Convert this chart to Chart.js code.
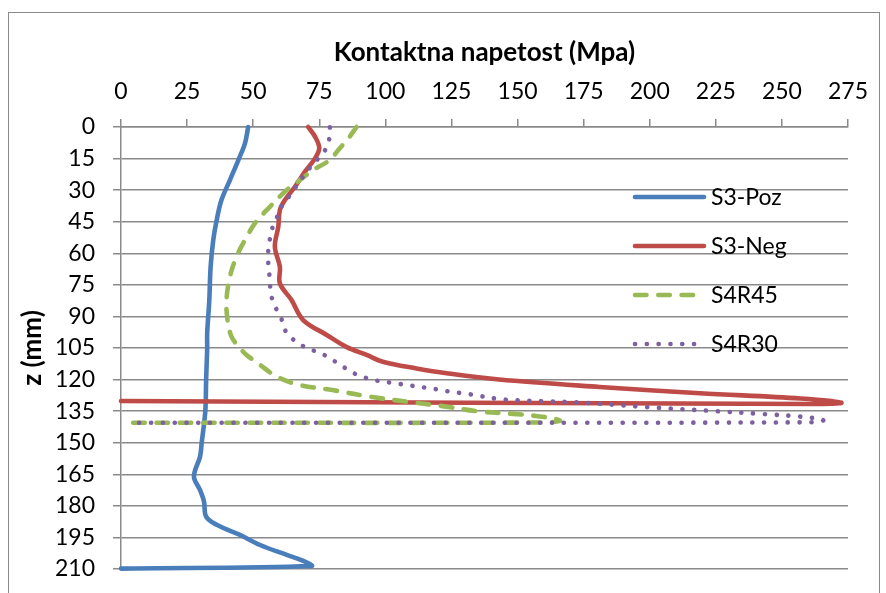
<!DOCTYPE html>
<html lang="sl">
<head>
<meta charset="UTF-8">
<title>Kontaktna napetost</title>
<style>
    body, html {
        margin: 0;
        padding: 0;
        background: #fff;
        overflow: hidden;
    }
    #wrap {
        width: 886px;
        height: 593px;
    }
</style>
</head>
<body>
<div id="wrap">
    <canvas id="myChart" width="886" height="593"></canvas>
</div>

<script src="https://cdn.jsdelivr.net/npm/chart.js"></script>
<script>

// globina z (mm) in kontaktna napetost (MPa) za vsako serijo
const pozDepth  = [0, 7.8, 15.7, 25.2, 34.7, 44.2, 53.7, 66.4, 82.2, 98, 105, 120, 134.8, 150.3, 156.6, 166, 172.5, 178, 185.1, 189, 193.8, 198.6, 203.3, 206.5, 208.6, 209.8];
const pozStress = [48.1, 46.9, 44.4, 41.2, 38, 36.2, 34.9, 33.9, 33.4, 32.6, 32.6, 32.2, 31.9, 30.5, 29.9, 27.6, 29.9, 31.4, 32.2, 36.2, 45, 52.6, 62.7, 69.6, 72.1, 0];

const negDepth  = [0, 4.6, 10, 14.9, 21.2, 28.4, 34.7, 39.4, 47.4, 56.9, 66.4, 74.3, 82.2, 91.7, 98.8, 104.6, 108.3, 111.5, 114.7, 117, 120, 123.5, 126.5, 129, 131, 131.6, 130.2];
const negStress = [70.8, 73.4, 75, 73.4, 69.6, 65.8, 62, 60.1, 59.5, 58.2, 60.1, 60.1, 64.5, 68.9, 77.8, 85.4, 92.9, 99, 111.8, 123.2, 143, 181, 219, 257, 272.5, 262, 0];

const r45Depth  = [0, 5.4, 10.9, 15.7, 20.4, 25.2, 29.9, 37.8, 45.7, 53.7, 61.6, 71.1, 82.2, 91.7, 99.6, 105.1, 108.3, 113, 118.6, 122.6, 125, 128.3, 130.5, 132.5, 135, 136.4, 137.3, 138.6, 139.6, 140.4, 140.5];
const r45Stress = [89.1, 86, 82.2, 79, 72.7, 67.7, 62.7, 56.4, 50.7, 46.9, 43.7, 41.2, 39.9, 40.3, 41.8, 45, 47.5, 52.6, 58.9, 67.7, 80, 95, 108, 121, 134.6, 149.7, 157, 164, 166, 160, 3];

const r30Depth  = [0.2, 5.4, 10.6, 15, 19.3, 23.9, 28.4, 33.1, 37.9, 42.6, 47.8, 53.4, 58.8, 64.5, 69.8, 75.4, 80.9, 86.1, 91.2, 96.4, 100.7, 104, 108.3, 111.2, 114.3, 117, 119.1, 120.5, 121.3, 122.1, 122.9, 123.7, 124.5, 125.5, 127, 129.5, 130.8, 133, 135, 136.4, 137.6, 139.2, 140.3, 140.5];
const r30Stress = [79, 78.8, 77.4, 74.6, 71.5, 68.7, 66.2, 63.5, 60.7, 59.1, 57.3, 56.3, 55.7, 55.7, 56.1, 56.4, 57, 58.6, 60.7, 62, 64.9, 68.7, 76.8, 80.7, 84.5, 88.1, 92.3, 96.7, 101.1, 105.5, 109.9, 114.3, 118.8, 123.2, 132, 145, 172, 198, 225, 243, 257, 265.6, 263, 3];

const seriesNames = ['S3-Poz', 'S3-Neg', 'S4R45', 'S4R30'];
const seriesColors = ['#4a7ebb', '#be4b48', '#98b954', '#7d60a0'];
const xTitle = 'Kontaktna napetost (Mpa)';
const yTitle = 'z (mm)';

const gridColor = '#8a8a8a';
const fontFamily = 'Lato, "Open Sans", sans-serif';

function toPoints(xs, ys) {
    return xs.map((x, i) => ({ x: x, y: ys[i] }));
}

function makeSeries(idx, xs, ys, dash) {
    return {
        label: seriesNames[idx],
        data: toPoints(xs, ys),
        showLine: true,
        borderColor: seriesColors[idx],
        backgroundColor: seriesColors[idx],
        borderWidth: 4.6,
        borderDash: dash,
        borderCapStyle: 'round',
        borderJoinStyle: 'round',
        pointRadius: 0,
        tension: 0.35,
        clip: 6,
        order: 4 - idx
    };
}

// okvir okoli celega grafa
const frame = {
    id: 'frame',
    beforeDraw(chart) {
        const ctx = chart.ctx;
        ctx.save();
        ctx.fillStyle = '#fff';
        ctx.fillRect(0, 0, chart.width, chart.height);
        ctx.strokeStyle = gridColor;
        ctx.lineWidth = 1;
        ctx.strokeRect(8.5, 12.5, 871, 620);
        ctx.restore();
    }
};

// legenda znotraj risalne ploskve, desno
const insideLegend = {
    id: 'insideLegend',
    afterDraw(chart) {
        const ctx = chart.ctx;
        const x0 = 635, x1 = 704, textX = 711;
        const top = 197, step = 49;
        ctx.save();
        ctx.font = '23px ' + fontFamily;
        ctx.textBaseline = 'middle';
        ctx.textAlign = 'left';
        seriesNames.forEach((name, i) => {
            const ds = chart.data.datasets[i];
            const y = top + i * step;
            ctx.strokeStyle = ds.borderColor;
            ctx.lineWidth = ds.borderWidth;
            ctx.lineCap = 'round';
            ctx.setLineDash(ds.borderDash);
            ctx.beginPath();
            ctx.moveTo(x0, y);
            ctx.lineTo(x1, y);
            ctx.stroke();
            ctx.setLineDash([]);
            ctx.fillStyle = '#000';
            ctx.fillText(name, textX, y + 1);
        });
        ctx.restore();
    }
};

const ctx = document.getElementById('myChart').getContext('2d');
new Chart(ctx, {
    type: 'scatter',
    data: {
        datasets: [
            makeSeries(0, pozStress, pozDepth, []),
            makeSeries(1, negStress, negDepth, []),
            makeSeries(2, r45Stress, r45Depth, [11.5, 11.8]),
            makeSeries(3, r30Stress, r30Depth, [0.1, 11.7])
        ]
    },
    options: {
        responsive: false,
        animation: false,
        devicePixelRatio: 1,
        layout: {
            padding: { left: 0, top: 0, right: 38, bottom: 24 }
        },
        plugins: {
            legend: { display: false },
            tooltip: { enabled: false }
        },
        scales: {
            x: {
                type: 'linear',
                position: 'top',
                min: 0,
                max: 275,
                ticks: {
                    stepSize: 25,
                    color: '#000',
                    padding: 14,
                    font: { family: fontFamily, size: 23, lineHeight: 1.2 }
                },
                grid: {
                    drawOnChartArea: false,
                    drawTicks: true,
                    tickLength: 8,
                    color: gridColor,
                    lineWidth: 1.5
                },
                border: { display: true, color: gridColor, width: 1.5 },
                title: {
                    display: true,
                    text: xTitle,
                    color: '#000',
                    padding: { top: 37, bottom: 0 },
                    font: { family: fontFamily, size: 26, weight: 'bold', lineHeight: 1.2 }
                },
                afterFit(scale) { scale.height = 127; }
            },
            y: {
                type: 'linear',
                reverse: true,
                min: 0,
                max: 210,
                ticks: {
                    stepSize: 15,
                    color: '#000',
                    padding: 18,
                    font: { family: fontFamily, size: 23, lineHeight: 1.2 }
                },
                grid: {
                    drawTicks: true,
                    tickLength: 8,
                    color: gridColor,
                    lineWidth: 1.5
                },
                border: { display: true, color: gridColor, width: 1.5 },
                title: {
                    display: true,
                    text: yTitle,
                    color: '#000',
                    padding: { top: 17, bottom: 0 },
                    font: { family: fontFamily, size: 26, weight: 'bold', lineHeight: 1.2 }
                },
                afterFit(scale) {
                    scale.width = 121;
                    // oznake same naj ne zmanjšajo risalne ploskve
                    scale.paddingTop = 0;
                    scale.paddingBottom = 0;
                }
            }
        }
    },
    plugins: [frame, insideLegend]
});

</script>
</body>
</html>
